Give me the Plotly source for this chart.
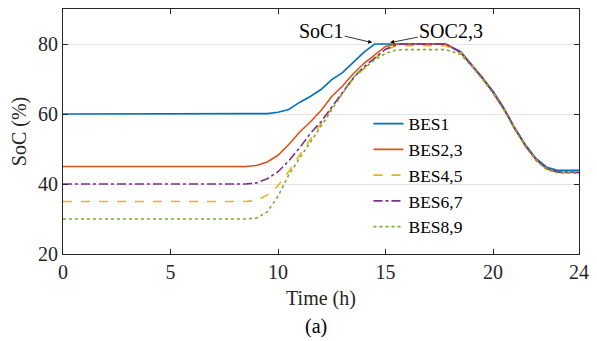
import plotly.graph_objects as go

time_h = [0, 8.5, 9, 9.5, 10, 10.5, 11, 11.5, 12, 12.5, 13, 13.5, 14, 14.5, 15, 15.5,
          16, 17, 17.8, 18.5, 19, 19.5, 20, 20.5, 21, 21.5, 22, 22.5, 23, 24]

bes1 = [60, 60, 60, 60.1, 60.5, 61.3, 63.3, 65.0, 67.0, 69.8, 71.8, 74.8, 77.7, 80, 80, 80,
        80, 80, 80, 77.8, 74.3, 70.5, 66.5, 61.8, 56.2, 51.3, 47.3, 44.8, 43.9, 43.9]
bes23 = [45, 45, 45.3, 46.3, 48.2, 51.3, 54.8, 57.7, 61.0, 65.0, 68.0, 71.5, 74.5, 77.0, 79.3, 80,
         80, 80, 80, 77.6, 74.1, 70.3, 66.2, 61.5, 56.0, 51.0, 47.0, 44.4, 43.4, 43.3]
bes45 = [35, 35, 35.3, 36.8, 39.5, 43.6, 48.2, 52.8, 57.5, 61.8, 66.0, 70.0, 73.0, 75.9, 78.3, 79.5,
         79.5, 79.5, 79.5, 77.4, 74.0, 70.2, 66.1, 61.4, 55.9, 50.9, 46.9, 44.3, 43.3, 43.2]
bes67 = [40, 40, 40.3, 41.5, 43.5, 46.6, 50.3, 54.4, 57.8, 62.0, 66.0, 70.3, 73.5, 76.0, 78.5, 79.8,
         80, 80, 80, 77.6, 74.1, 70.3, 66.2, 61.5, 56.0, 51.0, 47.0, 44.4, 43.4, 43.3]
bes89 = [30, 30, 30.3, 32.0, 36.5, 42.6, 47.3, 51.8, 56.5, 61.2, 65.8, 70.5, 73.0, 75.5, 77.3, 78.3,
         78.4, 78.4, 78.4, 77.0, 73.7, 70.0, 65.9, 61.2, 55.7, 50.7, 46.7, 44.1, 43.2, 43.1]

series = [
    ("BES1", bes1, "#0072BD", "solid"),
    ("BES2,3", bes23, "#D95319", "solid"),
    ("BES4,5", bes45, "#EDB120", "dash"),
    ("BES6,7", bes67, "#7E2F8E", "dashdot"),
    ("BES8,9", bes89, "#77AC30", "dot"),
]

x_ticks = [0, 5, 10, 15, 20, 24]
y_ticks = [20, 40, 60, 80]

FONT = "'Liberation Serif', 'Times New Roman', Times, serif"
FS = 20
fig = go.Figure()
for name, vals, color, dash in series:
    fig.add_trace(go.Scatter(x=time_h, y=vals, name=name, mode="lines",
                             line=dict(color=color, width=1.6, dash=dash)))

axis_common = dict(showline=True, linecolor="#262626", linewidth=1, mirror="ticks",
                   ticks="inside", ticklen=5, tickcolor="#262626", zeroline=False,
                   tickfont=dict(family=FONT, size=FS, color="#262626"))
fig.update_xaxes(range=[0, 24], tickvals=x_ticks, showgrid=False,
                 title=dict(text="Time (h)", font=dict(family=FONT, size=FS, color="#262626"), standoff=8),
                 **axis_common)
fig.update_yaxes(range=[20, 90], tickvals=y_ticks, showgrid=True, gridcolor="#e3e3e3", gridwidth=1,
                 title=dict(text="SoC (%)", font=dict(family=FONT, size=FS, color="#262626"), standoff=6),
                 **axis_common)

fig.add_annotation(x=14.38, y=80.4, text="SoC1", ax=-51, ay=-12, showarrow=True,
                   arrowhead=2, arrowsize=1, arrowwidth=0.8, arrowcolor="black",
                   font=dict(family=FONT, size=FS, color="black"))
fig.add_annotation(x=15.22, y=80.4, text="SOC2,3", ax=61, ay=-12, showarrow=True,
                   arrowhead=2, arrowsize=1, arrowwidth=0.8, arrowcolor="black",
                   font=dict(family=FONT, size=FS, color="black"))
fig.add_annotation(x=0.49, y=-0.296, xref="paper", yref="paper", text="(a)", showarrow=False,
                   yanchor="middle", font=dict(family=FONT, size=FS, color="black"))

fig.update_layout(
    width=597, height=341,
    margin=dict(l=63, r=16, t=8, b=87),
    plot_bgcolor="white", paper_bgcolor="white",
    font=dict(family=FONT, size=FS, color="black"),
    legend=dict(x=0.592, y=0.605, xanchor="left", yanchor="top", bgcolor="rgba(0,0,0,0)",
                font=dict(family=FONT, size=17.5, color="black"), tracegroupgap=0,
                itemwidth=30),
    showlegend=True,
)
fig.write_html("out.html")
